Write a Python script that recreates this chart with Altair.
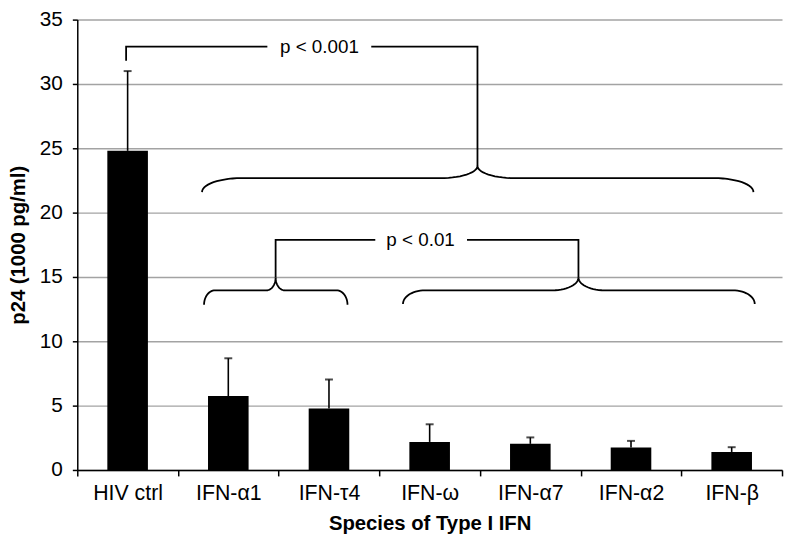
import math
import altair as alt
import pandas as pd

# ---------------- data ----------------
categories = ["HIV ctrl", "IFN-α1", "IFN-τ4", "IFN-ω", "IFN-α7", "IFN-α2", "IFN-β"]
means = [24.8, 5.75, 4.78, 2.18, 2.03, 1.74, 1.40]
upper = [31.0, 8.68, 7.03, 3.55, 2.53, 2.26, 1.77]

# significance braces (x in category-index units: category i spans i .. i+1)
brace_ids = ["all", "grpA", "grpB"]
brace_x0 = [1.239, 1.259, 3.235]
brace_x1 = [6.716, 2.684, 6.729]
brace_tip = [3.975, 1.970, 4.978]
brace_end_y = [21.6, 12.84, 12.9]
brace_arm_y = [22.68, 13.96, 13.96]
brace_tip_y = [23.63, 14.96, 14.96]
brace_end_rx = [0.39, 0.11, 0.22]
brace_tip_rx = [0.37, 0.09, 0.26]

# connector lines between groups
connector_ids = ["c1a", "c1b", "c2a", "c2b"]
connector_x = [[0.485, 0.485, 1.888], [2.92, 3.975, 3.975],
               [1.970, 1.970, 2.96], [3.871, 4.978, 4.978]]
connector_y = [[31.8, 32.9, 32.9], [32.9, 32.9, 23.63],
               [14.96, 17.88, 17.88], [17.88, 17.88, 14.96]]

p_labels = ["p < 0.001", "p < 0.01"]
p_x = [2.405, 3.41]
p_y = [32.9, 17.88]

# ---------------- tables ----------------
bars = pd.DataFrame({"cat": categories, "mean": means, "upper": upper})

rows = []
N = 14
for i, bid in enumerate(brace_ids):
    x0, x1, xm = brace_x0[i], brace_x1[i], brace_tip[i]
    ye, ya, yt = brace_end_y[i], brace_arm_y[i], brace_tip_y[i]
    re, rt = brace_end_rx[i], brace_tip_rx[i]
    pts = []
    for k in range(N + 1):
        t = k / N * math.pi / 2
        pts.append((x0 + re * (1 - math.cos(t)), ye + (ya - ye) * math.sin(t)))
    for k in range(N + 1):
        t = k / N * math.pi / 2
        pts.append((xm - rt + rt * math.sin(t), ya + (yt - ya) * (1 - math.cos(t))))
    for k in range(N + 1):
        t = k / N * math.pi / 2
        pts.append((xm + rt * (1 - math.cos(t)), yt - (yt - ya) * math.sin(t)))
    for k in range(N + 1):
        t = k / N * math.pi / 2
        pts.append((x1 - re + re * math.sin(t), ya - (ya - ye) * (1 - math.cos(t))))
    for j, (px, py) in enumerate(pts):
        rows.append({"id": bid, "o": j, "u": px, "v": py})
for i, cid in enumerate(connector_ids):
    for j, (px, py) in enumerate(zip(connector_x[i], connector_y[i])):
        rows.append({"id": cid, "o": j, "u": px, "v": py})
paths = pd.DataFrame(rows)

labels = pd.DataFrame({"label": p_labels, "u": p_x, "v": p_y})

# ---------------- chart ----------------
FONT = "Liberation Sans"

xband = alt.X(
    "cat:N",
    sort=categories,
    scale=alt.Scale(paddingInner=0, paddingOuter=0),
    axis=alt.Axis(
        title="Species of Type I IFN",
        labelAngle=0,
        tickBand="extent",
        grid=False,
        domainColor="black",
        domainWidth=1.5,
        tickColor="black",
        tickWidth=1.5,
        tickSize=6,
        labelFontSize=21.5,
        labelColor="black",
        labelPadding=7,
        titleFontSize=20.5,
        titleFontWeight="bold",
        titleColor="black",
        titlePadding=10,
    ),
)

yq = alt.Y(
    "mean:Q",
    scale=alt.Scale(domain=[0, 35], nice=False),
    axis=alt.Axis(
        title="p24 (1000 pg/ml)",
        values=[0, 5, 10, 15, 20, 25, 30, 35],
        grid=True,
        gridColor="#a3a3a3",
        gridWidth=1.5,
        domainColor="black",
        domainWidth=1.5,
        tickColor="black",
        tickWidth=1.5,
        tickSize=5,
        labelFontSize=21,
        labelColor="black",
        labelPadding=10,
        titleFontSize=20.5,
        titleFontWeight="bold",
        titleColor="black",
        titlePadding=11,
    ),
)

bar_layer = alt.Chart(bars).mark_bar(width=41, color="black").encode(x=xband, y=yq)

err_layer = alt.Chart(bars).mark_rule(color="black", strokeWidth=1.6).encode(
    x=alt.X("cat:N", sort=categories),
    y="mean:Q",
    y2="upper:Q",
)

cap_layer = alt.Chart(bars).mark_tick(color="black", size=8, thickness=2).encode(
    x=alt.X("cat:N", sort=categories),
    y="upper:Q",
)

ux = alt.X("u:Q", scale=alt.Scale(domain=[0, 7], nice=False, zero=False), axis=None)

path_layer = alt.Chart(paths).mark_line(color="black", strokeWidth=1.8).encode(
    x=ux,
    y=alt.Y("v:Q"),
    detail="id:N",
    order="o:Q",
)

text_layer = alt.Chart(labels).mark_text(
    font=FONT, fontSize=19, color="black", align="center", baseline="middle"
).encode(
    x=ux,
    y=alt.Y("v:Q"),
    text="label:N",
)

bars_all = alt.layer(bar_layer, err_layer, cap_layer)
annot = alt.layer(path_layer, text_layer)

chart = (
    alt.layer(bars_all, annot)
    .resolve_scale(x="independent")
    .properties(
        width=712,
        height=455,
        autosize=alt.AutoSizeParams(type="none"),
        padding={"left": 70, "top": 9, "right": 2, "bottom": 66},
        background="white",
    )
    .configure(font=FONT)
    .configure_view(stroke=None)
)

chart.save("out.html", embed_options={"renderer": "svg", "actions": False})
